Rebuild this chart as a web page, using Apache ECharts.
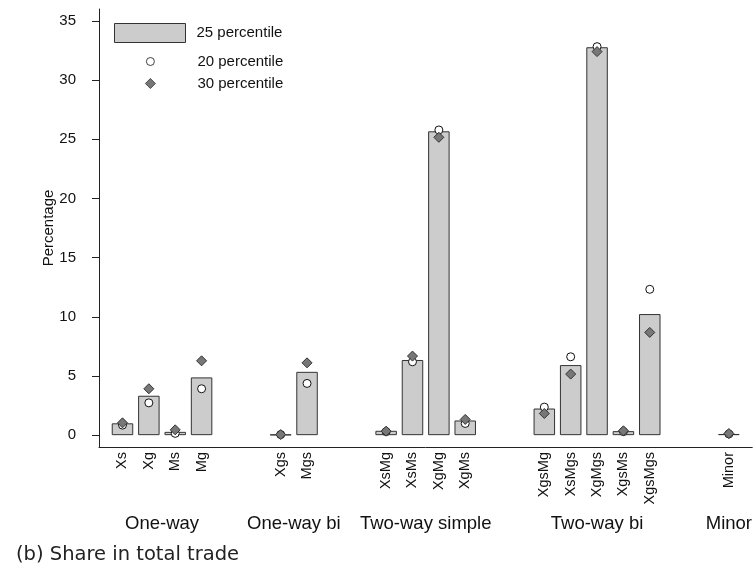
<!DOCTYPE html>
<html>
<head>
<meta charset="utf-8">
<script src="https://cdn.jsdelivr.net/npm/echarts@6/dist/echarts.min.js"></script>
<style>
html,body{margin:0;padding:0;background:#fff;}
#c{width:755px;height:575px;}
</style>
</head>
<body>
<div id="c"></div>
<script>
// ---- data ----
const groupNames = ['One-way', 'One-way bi', 'Two-way simple', 'Two-way bi', 'Minor'];
const groupSizes = [4, 2, 4, 5, 1];
const categories = ['Xs', 'Xg', 'Ms', 'Mg', 'Xgs', 'Mgs', 'XsMg', 'XsMs', 'XgMg', 'XgMs',
  'XgsMg', 'XsMgs', 'XgMgs', 'XgsMs', 'XgsMgs', 'Minor'];
const p25 = [1.0, 3.33, 0.28, 4.88, 0.05, 5.35, 0.37, 6.35, 25.67, 1.24, 2.25, 5.92, 32.77, 0.34, 10.23, 0.1];
const p20 = [0.85, 2.73, 0.15, 3.92, 0.05, 4.37, 0.3, 6.2, 25.78, 0.99, 2.37, 6.62, 32.82, 0.3, 12.32, 0.1];
const p30 = [1.04, 3.92, 0.45, 6.28, 0.05, 6.11, 0.34, 6.68, 25.16, 1.33, 1.83, 5.16, 32.4, 0.37, 8.68, 0.14];
const yTicks = [0, 5, 10, 15, 20, 25, 30, 35];

// ---- slot positions (gap of two empty slots between groups) ----
const GAP = 2;
const pos = [];
const groupCenters = [];
let slot = 1;
groupSizes.forEach((n, g) => {
  const start = slot;
  for (let i = 0; i < n; i++) pos.push(slot++);
  groupCenters.push((start + slot - 1) / 2);
  slot += GAP;
});
const nameAt = {};
pos.forEach((p, i) => nameAt[p] = categories[i]);
const groupAt = {};
groupCenters.forEach((p, i) => groupAt[p] = groupNames[i]);

const FONT = '"Liberation Sans", Arial, Helvetica, sans-serif';
const AX = '#222';

const chart = echarts.init(document.getElementById('c'), null, {renderer: 'canvas'});
chart.setOption({
  animation: false,
  backgroundColor: '#fff',
  textStyle: {fontFamily: FONT},
  title: {
    text: '(b) Share in total trade',
    left: 11, top: 540,
    textStyle: {fontFamily: '"DejaVu Sans", sans-serif', fontSize: 19.5, fontWeight: 'normal', color: '#222'}
  },
  grid: {left: 99, right: 2.3, top: 9, bottom: 128, containLabel: false},
  legend: [
    {data: [{name: '25 percentile', icon: 'rect'}], left: 114, top: 23, padding: 0,
      itemWidth: 71, itemHeight: 19, selectedMode: false,
      itemStyle: {borderWidth: 1, borderColor: '#333'},
      textStyle: {fontSize: 15, color: '#111', fontFamily: FONT, padding: [0, 0, 0, 6]}},
    {data: [{name: '20 percentile', icon: 'circle'}], left: 146, top: 54, padding: 0,
      itemWidth: 8, itemHeight: 8, selectedMode: false,
      itemStyle: {borderWidth: 0.8, borderColor: '#111'},
      textStyle: {fontSize: 15, color: '#111', fontFamily: FONT, padding: [0, 0, 0, 38]}},
    {data: [{name: '30 percentile', icon: 'diamond'}], left: 145, top: 76, padding: 0,
      itemWidth: 10, itemHeight: 10, selectedMode: false,
      itemStyle: {borderWidth: 0.8, borderColor: '#333'},
      textStyle: {fontSize: 15, color: '#111', fontFamily: FONT, padding: [0, 0, 0, 37]}}
  ],
  xAxis: [
    {
      type: 'value', min: 0.109, max: 24.887, position: 'bottom',
      splitLine: {show: false},
      axisLine: {show: true, onZero: false, lineStyle: {color: AX, width: 1}},
      axisTick: {show: false},
      axisLabel: {
        customValues: pos, rotate: 90, margin: 5, fontSize: 14.5, color: '#111', fontFamily: FONT,
        formatter: v => nameAt[v] || ''
      }
    },
    {
      type: 'value', min: 0.109, max: 24.887, position: 'bottom',
      splitLine: {show: false},
      axisLine: {show: false, onZero: false}, axisTick: {show: false},
      axisLabel: {
        customValues: groupCenters, margin: 67, fontSize: 18.5, color: '#111', fontFamily: FONT,
        formatter: v => groupAt[v] || ''
      }
    }
  ],
  yAxis: {
    type: 'value', min: -1, max: 36,
    name: 'Percentage', nameLocation: 'middle', nameRotate: 90, nameGap: 50, nameMoveOverlap: false,
    nameTextStyle: {fontSize: 15, color: '#111', fontFamily: FONT, verticalAlign: 'middle'},
    splitLine: {show: false},
    axisLine: {show: true, onZero: false, lineStyle: {color: AX, width: 1}},
    axisTick: {show: true, customValues: yTicks, length: 7, lineStyle: {color: AX}},
    axisLabel: {customValues: yTicks, margin: 23, fontSize: 15, color: '#111', fontFamily: FONT}
  },
  series: [
    {
      name: '25 percentile', type: 'bar', barWidth: 21.5,
      data: pos.map((p, i) => [p, p25[i]]),
      itemStyle: {color: '#cccccc', borderColor: '#333', borderWidth: 1},
      z: 2
    },
    {
      name: '20 percentile', type: 'scatter', symbol: 'circle', symbolSize: 8,
      data: pos.map((p, i) => [p, p20[i]]),
      itemStyle: {color: '#ffffff', borderColor: '#111', borderWidth: 1, opacity: 1},
      z: 3
    },
    {
      name: '30 percentile', type: 'scatter', symbol: 'diamond', symbolSize: 10,
      data: pos.map((p, i) => [p, p30[i]]),
      itemStyle: {color: '#777777', borderColor: '#333', borderWidth: 1, opacity: 1},
      z: 4
    }
  ]
});
</script>
</body>
</html>
